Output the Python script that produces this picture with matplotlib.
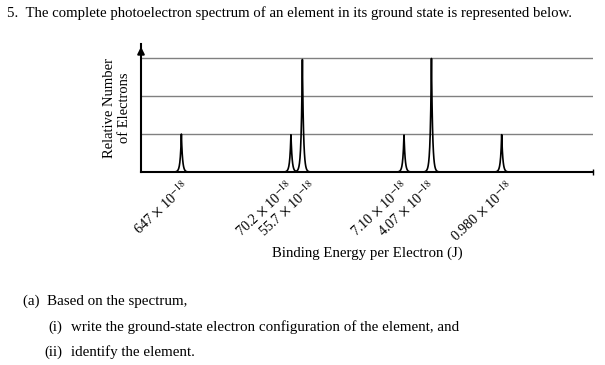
import numpy as np
import matplotlib
matplotlib.use("Agg")
import matplotlib.pyplot as plt
import matplotlib.transforms as mtransforms

plt.rcParams['font.family'] = ['Liberation Serif', 'DejaVu Serif']
plt.rcParams['mathtext.fontset'] = 'stix'

# peaks of the photoelectron spectrum (binding energy in 10^-18 J, relative number of electrons)
energias = [647, 70.2, 55.7, 7.10, 4.07, 0.980]
alturas = [2, 2, 6, 2, 6, 2]
rotulos = ["647", "70.2", "55.7", "7.10", "4.07", "0.980"]
grade_y = [2, 4, 6]

# small horizontal nudges (px) so the crowded labels don't collide
nudge = [0, -4.6, 7, -2.6, -4, 4.7]

W, H = 605, 365
fig = plt.figure(figsize=(W / 100, H / 100), dpi=100)
ax = fig.add_axes([141 / W, 1 - 172 / H, (593 - 141) / W, (172 - 44) / H])

# narrow spikes drawn on a log energy scale
logx = np.linspace(np.log10(0.154), np.log10(1467), 6000)
y = np.zeros_like(logx)
w = 0.01
for e, h in zip(energias, alturas):
    y = y + h * np.exp(-np.abs(logx - np.log10(e)) / w)
ax.plot(10 ** logx, y, color="black", lw=1.2)

ax.set_xscale("log")
ax.set_xlim(1467, 0.154)
ax.set_ylim(0, 6.74)

for g in grade_y:
    ax.axhline(g, color="#808080", lw=1, zorder=0)

for s in ["top", "right"]:
    ax.spines[s].set_visible(False)
ax.spines["left"].set_linewidth(1.5)
ax.spines["bottom"].set_linewidth(1.5)
ax.plot(1, 0, marker="|", color="black", ms=5, transform=ax.transAxes, clip_on=False)
ax.annotate("", xy=(0, 1.0), xytext=(0, 0.9), xycoords="axes fraction",
            arrowprops=dict(arrowstyle="-|>", color="black", lw=1.5, mutation_scale=10))

ax.set_yticks([])
ax.minorticks_off()
ax.set_xticks(energias)
ax.set_xticklabels([r + r" $\times$ 10$^{-18}$" for r in rotulos], fontsize=10.2,
                   rotation=43, ha="right", va="top", rotation_mode="anchor")
ax.tick_params(axis="x", length=0, pad=4)
for lbl, dx in zip(ax.get_xticklabels(), nudge):
    desloc = mtransforms.ScaledTranslation(dx / 100, 0, fig.dpi_scale_trans)
    lbl.set_transform(lbl.get_transform() + desloc)

ax.set_ylabel("Relative Number\nof Electrons", fontsize=10.5, labelpad=7, linespacing=1.2)
fig.text(367 / W, 1 - 253 / H, "Binding Energy per Electron (J)", ha="center", va="center", fontsize=10.7)

fig.text(7 / W, 1 - 13 / H, "5.  The complete photoelectron spectrum of an element in its ground state is represented below.",
         ha="left", va="center", fontsize=10.65)
fig.text(23 / W, 1 - 301 / H, "(a)  Based on the spectrum,", ha="left", va="center", fontsize=10.85)
fig.text(62 / W, 1 - 327 / H, "(i)", ha="right", va="center", fontsize=10.85)
fig.text(71 / W, 1 - 327 / H, "write the ground-state electron configuration of the element, and",
         ha="left", va="center", fontsize=10.85)
fig.text(62 / W, 1 - 352 / H, "(ii)", ha="right", va="center", fontsize=10.85)
fig.text(71 / W, 1 - 352 / H, "identify the element.", ha="left", va="center", fontsize=10.85)

fig.savefig("out.png", dpi=100)
